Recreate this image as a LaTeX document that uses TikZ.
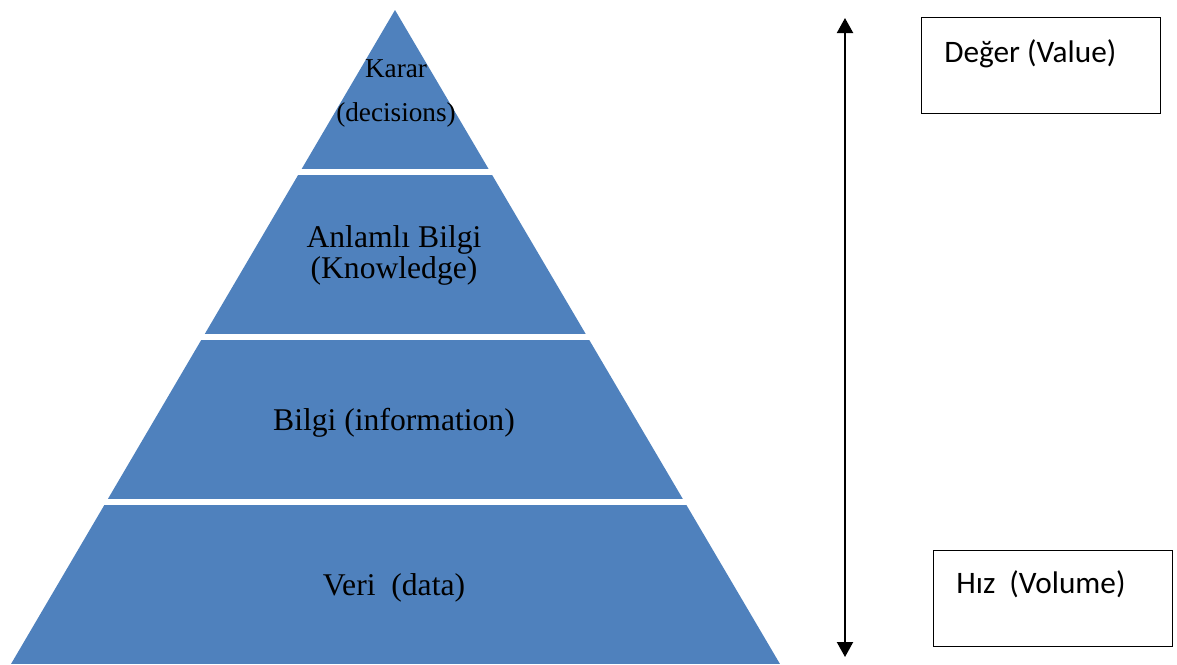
\documentclass[tikz,border=0pt]{standalone}
\usepackage{fontspec}
\setmainfont{Liberation Serif}
\newfontfamily\calibrifont{Carlito}
\usetikzlibrary{arrows.meta}
\definecolor{pyrblue}{HTML}{4F81BD}

\begin{document}
\begin{tikzpicture}[x=0.02cm, y=-0.02cm, >={Triangle[length=0.3cm,width=0.32cm]},
  band/.style={fill=pyrblue},
  layertext/.style={font=\fontsize{18}{17.5}\selectfont, align=center, anchor=base, inner sep=0pt},
  sidebox/.style={draw, line width=0.7pt, minimum width=4.78cm, minimum height=1.92cm, anchor=north west, inner sep=0pt},
  sidetext/.style={font=\calibrifont\fontsize{17.8}{21}\selectfont, anchor=base west, inner sep=0pt}]

  \useasboundingbox (0,0) rectangle (1177,664);

  % Pyramid, cut into four bands
  \begin{scope}
    \clip (395,10) -- (780,664) -- (11,664) -- cycle;
    \foreach \ytop/\ybot in {10/169,175/334,340/499,505/664}
      \fill[band] (0,\ytop) rectangle (800,\ybot);
  \end{scope}

  % Band labels (base = last line)
  \node[layertext, font=\fontsize{15.5}{24.5}\selectfont] (karar) at (396,121) {Karar\\(decisions)};
  \node[layertext] (anlamli) at (394,278) {Anlamlı Bilgi\\(Knowledge)};
  \node[layertext] (bilgi) at (394,430) {Bilgi (information)};
  \node[layertext] (veri) at (394,595) {Veri~~(data)};

  % Value / volume axis
  \coordinate (hi) at (845,18);
  \coordinate (lo) at (845,657);
  \draw[<->, line width=1.2pt] (hi) -- (lo);

  % Side boxes
  \node[sidebox] (value) at (921,17) {};
  \node[sidetext] (valuetxt) at (944,62) {Değer (Value)};

  \node[sidebox] (volume) at (933,550) {};
  \node[sidetext] (volumetxt) at (956,593) {Hız~~(Volume)};

\end{tikzpicture}
\end{document}
